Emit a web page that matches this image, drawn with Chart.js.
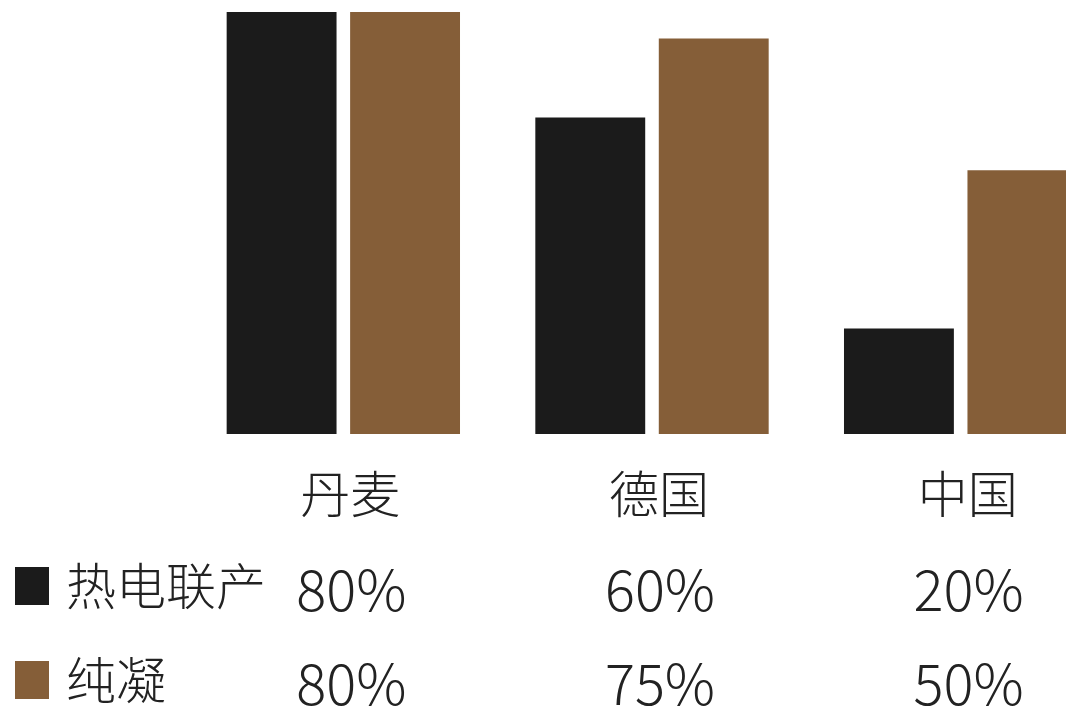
<!DOCTYPE html>
<html>
<head>
<meta charset="utf-8">
<script src="https://cdn.jsdelivr.net/npm/chart.js@4/dist/chart.umd.min.js"></script>
<style>
  html, body { margin: 0; padding: 0; background: #fff; overflow: hidden; }
  #wrap { width: 1066px; height: 711px; overflow: hidden; }
</style>
</head>
<body>
<div id="wrap"><canvas id="chart" width="1115" height="711"></canvas></div>
<script>
const countries = ['丹麦', '德国', '中国'];
const seriesNames = ['热电联产', '纯凝'];
const chpShare = [80, 60, 20];
const condensingShare = [80, 75, 50];
const seriesColors = ['#1b1b1b', '#855e38'];

const cjkFont = '"Noto Sans CJK SC", sans-serif';

// table under the bars: country names, then one row per series with its legend swatch
const shareTable = {
    id: 'shareTable',
    afterDraw(chart) {
        const ctx = chart.ctx;
        const x = chart.scales.x;
        ctx.save();
        ctx.fillStyle = '#222';
        ctx.textBaseline = 'middle';
        ctx.textAlign = 'center';
        ctx.font = '300 50px ' + cjkFont;
        countries.forEach((c, i) => ctx.fillText(c, x.getPixelForValue(i) + 7, 494));

        const rows = [chpShare, condensingShare];
        const rowY = [586, 680];
        rows.forEach((vals, r) => {
            ctx.fillStyle = seriesColors[r];
            ctx.fillRect(15, rowY[r] - 19, 34, 38);

            ctx.fillStyle = '#222';
            ctx.textAlign = 'left';
            ctx.font = '300 50px ' + cjkFont;
            ctx.fillText(seriesNames[r], 66, rowY[r]);

            ctx.textAlign = 'center';
            ctx.font = '300 56px ' + cjkFont;
            vals.forEach((v, i) => ctx.fillText(v + '%', x.getPixelForValue(i) + 8, rowY[r] + 4));
        });
        ctx.restore();
    }
};

new Chart(document.getElementById('chart'), {
    type: 'bar',
    data: {
        labels: countries,
        datasets: [
            { label: seriesNames[0], data: chpShare, backgroundColor: seriesColors[0] },
            { label: seriesNames[1], data: condensingShare, backgroundColor: seriesColors[1] }
        ]
    },
    options: {
        responsive: false,
        animation: false,
        categoryPercentage: 0.8,
        barPercentage: 0.89,
        layout: { padding: { left: 189, right: 0, top: 12, bottom: 277 } },
        plugins: {
            legend: { display: false },
            tooltip: { enabled: false }
        },
        scales: {
            x: { display: false },
            y: { display: false, min: 0, max: 80 }
        }
    },
    plugins: [shareTable]
});
</script>
</body>
</html>
